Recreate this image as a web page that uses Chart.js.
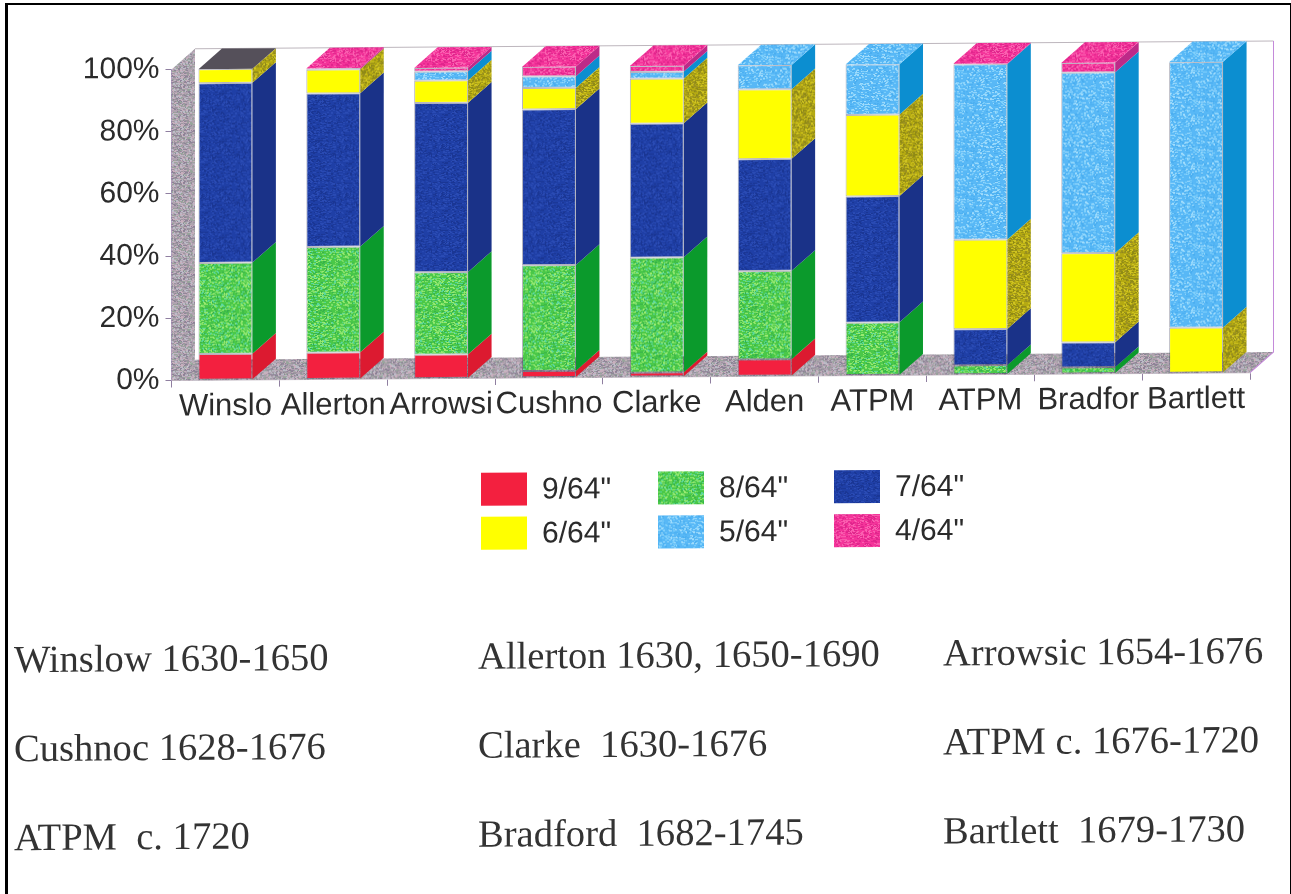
<!DOCTYPE html>
<html>
<head>
<meta charset="utf-8">
<title>Pipe stem bore diameters by site</title>
<script src="https://cdn.jsdelivr.net/npm/chart.js@4"></script>
<style>
    html, body { margin: 0; padding: 0; background: #fff; overflow: hidden; }
    #wrap { position: relative; width: 1291px; height: 894px; }
    #frame {
        position: absolute; left: 5px; top: 3px; width: 1282px; height: 900px;
        border-left: 3px solid #000; border-top: 2px solid #000; border-right: 2px solid #000;
    }
    canvas { position: absolute; left: 0; top: 0; }
</style>
</head>
<body>
<div id="wrap">
    <canvas id="myChart" width="1291" height="894"></canvas>
    <div id="frame"></div>
</div>
<script>
// site labels as they got cut off on the axis
const siteLabels = ['Winslo', 'Allerton', 'Arrowsi', 'Cushno', 'Clarke', 'Alden', 'ATPM', 'ATPM', 'Bradfor', 'Bartlett'];

// percent of stems per bore size
const bore9 = [8.4, 8.6, 7.7, 2.2, 1.4, 5.4, 0, 0, 0, 0];
const bore8 = [29.3, 34, 26.5, 34, 37, 28.4, 17, 3, 2.1, 0];
const bore7 = [57.8, 49.3, 54.4, 50.1, 43.1, 36, 40.6, 11.6, 8, 0];
const bore6 = [4.5, 7.7, 7.2, 6.9, 14.4, 22.4, 26.2, 28.8, 28.7, 14.6];
const bore5 = [0, 0, 2.9, 3.7, 2.2, 7.8, 16.2, 56.4, 58.1, 85.4];
const bore4 = [0, 0.4, 1.2, 3.1, 1.9, 0, 0, 0.2, 3.1, 0];

const boreLabels = ['9/64"', '8/64"', '7/64"', '6/64"', '5/64"', '4/64"'];
const boreValues = [bore9, bore8, bore7, bore6, bore5, bore4];
const yTicks = [0, 20, 40, 60, 80, 100];

const captions = [
    ['Winslow 1630-1650', 'Allerton 1630, 1650-1690', 'Arrowsic 1654-1676'],
    ['Cushnoc 1628-1676', 'Clarke  1630-1676', 'ATPM c. 1676-1720'],
    ['ATPM  c. 1720', 'Bradford  1682-1745', 'Bartlett  1679-1730']
];

const frontColors = ['#f3203f', '#4ac848', '#1f3fa6', '#ffff00', '#58b8f6', '#f4349a'];
const sideColors = ['#dc1a30', '#0b9a2c', '#1a3288', '#b5aa12', '#0c8ed0', '#bd2a88'];
const capGrey = '#55505a';

// the whole drawing leans slightly, and the boxes have this much depth
const lean = 0.0072;
const depthX = 23.5;
const depthY = -20.5;

// small repeating grainy tile, the grain comes from a simple integer hash
function grain(base, specks, amount) {
    let tile = document.createElement('canvas');
    tile.width = 48;
    tile.height = 48;
    let c = tile.getContext('2d');
    c.fillStyle = base;
    c.fillRect(0, 0, 48, 48);
    let h = 12345;
    for (let y = 0; y < 48; y++) {
        for (let x = 0; x < 48; x++) {
            h = (h * 1103515245 + 12345) & 0x7fffffff;
            if ((h >> 8) % 100 < amount) {
                c.fillStyle = specks[(h >> 16) % specks.length];
                c.fillRect(x, y, 2, 1);
            }
        }
    }
    return document.getElementById('myChart').getContext('2d').createPattern(tile, 'repeat');
}

const wallGrain = grain('#b0a3b0', ['#9a949e', '#c8b0be', '#bcbcc8', '#98a59c', '#8c8296'], 50);
const frontFill = [
    frontColors[0],
    grain(frontColors[1], ['#7fe06a', '#35b24a', '#9bea70', '#5ad8a0'], 30),
    grain(frontColors[2], ['#2a4bb4', '#1a3694'], 25),
    frontColors[3],
    grain(frontColors[4], ['#80d0fb', '#4aaef0', '#a0dcfc'], 22),
    grain(frontColors[5], ['#e0258c', '#fa60b0'], 30)
];
const sideFill = [
    sideColors[0],
    sideColors[1],
    sideColors[2],
    grain(sideColors[3], ['#8f8a14', '#d0c420', '#9a9020'], 40),
    sideColors[4],
    sideColors[5]
];

function poly(ctx, fill, pts) {
    ctx.fillStyle = fill;
    ctx.beginPath();
    ctx.moveTo(pts[0][0], pts[0][1]);
    for (let i = 1; i < pts.length; i++) ctx.lineTo(pts[i][0], pts[i][1]);
    ctx.closePath();
    ctx.fill();
}

// leans everything the chart draws
const leanPlugin = {
    id: 'lean',
    beforeDraw(chart) {
        let a = chart.chartArea;
        chart.ctx.save();
        chart.ctx.transform(1, -lean, 0, 1, 0, lean * a.left);
    },
    afterDraw(chart) {
        drawLegendGrid(chart);
        drawCaptions(chart);
        chart.ctx.restore();
    }
};

// wall, floor, and the side and top faces of every box
const boxPlugin = {
    id: 'boxes',
    beforeDatasetsDraw(chart) {
        let ctx = chart.ctx, a = chart.chartArea;
        poly(ctx, wallGrain, [[a.left, a.bottom], [a.left, a.top], [a.left + depthX, a.top + depthY], [a.left + depthX, a.bottom + depthY]]);
        poly(ctx, wallGrain, [[a.left, a.bottom], [a.left + depthX, a.bottom + depthY], [a.right + depthX, a.bottom + depthY], [a.right, a.bottom]]);

        ctx.lineWidth = 1;
        ctx.strokeStyle = '#bdb6bd';
        ctx.beginPath();
        ctx.moveTo(a.left + depthX, a.top + depthY);
        ctx.lineTo(a.right + depthX, a.top + depthY);
        ctx.stroke();
        ctx.strokeStyle = '#c48ada';
        ctx.beginPath();
        ctx.moveTo(a.right + depthX, a.top + depthY);
        ctx.lineTo(a.right + depthX, a.bottom + depthY);
        ctx.lineTo(a.right, a.bottom);
        ctx.stroke();

        for (let d = 0; d < boreValues.length; d++) {
            let bars = chart.getDatasetMeta(d).data;
            for (let j = 0; j < bars.length; j++) {
                if (!boreValues[d][j]) continue;
                let b = bars[j], x2 = b.x + b.width / 2;
                poly(ctx, sideFill[d], [[x2, b.y], [x2 + depthX, b.y + depthY], [x2 + depthX, b.base + depthY], [x2, b.base]]);
                let above = boreValues.slice(d + 1).some(function (s) { return s[j] > 0; });
                if (!above) {
                    let x1 = b.x - b.width / 2;
                    // Winslow has a dark cap on its column
                    poly(ctx, j === 0 ? capGrey : frontFill[d], [[x1, b.y], [x1 + depthX, b.y + depthY], [x2 + depthX, b.y + depthY], [x2, b.y]]);
                }
            }
        }
    }
};

function drawLegendGrid(chart) {
    let ctx = chart.ctx;
    let colX = [481, 658, 834];
    let rowY = [475, 519];
    ctx.font = '30px "Liberation Sans"';
    ctx.textAlign = 'left';
    ctx.textBaseline = 'middle';
    for (let i = 0; i < boreLabels.length; i++) {
        let x = colX[i % 3], y = rowY[Math.floor(i / 3)];
        ctx.fillStyle = frontFill[i];
        ctx.fillRect(x, y, 46, 33);
        ctx.fillStyle = '#2b2b2b';
        ctx.fillText(boreLabels[i], x + 61, y + 18);
    }
}

function drawCaptions(chart) {
    let ctx = chart.ctx;
    let colX = [14, 478, 943];
    let rowY = [671, 760, 849];
    ctx.font = '38.6px "Liberation Serif"';
    ctx.textAlign = 'left';
    ctx.textBaseline = 'alphabetic';
    ctx.fillStyle = '#333';
    for (let r = 0; r < captions.length; r++) {
        for (let c = 0; c < captions[r].length; c++) {
            ctx.fillText(captions[r][c], colX[c], rowY[r]);
        }
    }
}

let ctx = document.getElementById('myChart').getContext('2d');

let myChart = new Chart(ctx, {
    type: 'bar',
    data: {
        labels: siteLabels,
        datasets: boreLabels.map(function (label, i) {
            return {
                label: label,
                data: boreValues[i],
                backgroundColor: frontFill[i],
                borderColor: 'rgba(40,40,70,0.35)',
                borderWidth: 1,
                borderSkipped: false,
                barPercentage: 0.5,
                categoryPercentage: 1
            };
        })
    },
    options: {
        responsive: false,
        animation: false,
        layout: { padding: { left: 0, right: 41, top: 69.4, bottom: 468.6 } },
        plugins: { legend: { display: false }, tooltip: { enabled: false } },
        scales: {
            x: {
                stacked: true,
                afterFit: function (s) { s.height = 45; },
                grid: { offset: true, drawOnChartArea: false, tickLength: 7, color: '#8f7fa0' },
                border: { color: '#c9c0c9' },
                ticks: {
                    autoSkip: false,
                    maxRotation: 0,
                    padding: 1,
                    color: '#2b2b2b',
                    font: { family: '"Liberation Sans"', size: 31 }
                }
            },
            y: {
                stacked: true,
                min: 0,
                max: 100,
                afterFit: function (s) { s.width = 171.5; },
                afterBuildTicks: function (s) { s.ticks = yTicks.map(function (v) { return { value: v }; }); },
                grid: { drawOnChartArea: false, tickLength: 6, color: '#8f7fa0' },
                border: { color: '#a58fc0' },
                ticks: {
                    padding: 6,
                    color: '#2b2b2b',
                    font: { family: '"Liberation Sans"', size: 30 },
                    callback: function (v) { return v + '%'; }
                }
            }
        }
    },
    plugins: [leanPlugin, boxPlugin]
});
</script>
</body>
</html>
